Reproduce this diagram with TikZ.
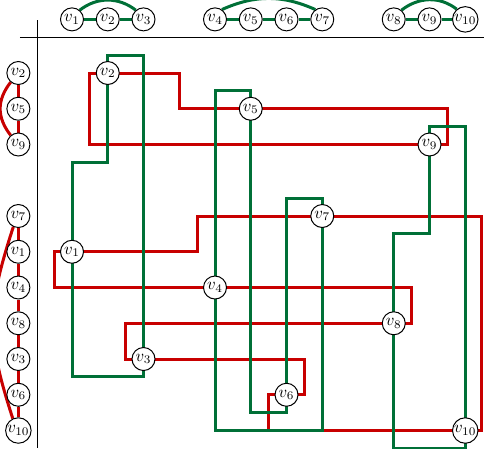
\documentclass[tikz,border=0pt]{standalone}
\usetikzlibrary{calc}
\definecolor{rowred}{RGB}{200,0,0}
\definecolor{colgreen}{RGB}{0,112,55}
\pgfdeclarelayer{bg}
\pgfsetlayers{bg,main}
\begin{document}
\begin{tikzpicture}[x=21.45pt,y=-21.45pt,
  vtx/.style={circle,draw=black,line width=0.6pt,fill=white,minimum size=13.8pt,inner sep=0.3pt},
  redge/.style={draw=rowred,line width=1.8pt},
  gedge/.style={draw=colgreen,line width=1.8pt},
  axis/.style={draw=black,line width=0.7pt}]
\useasboundingbox (-2.014,-2.042) rectangle (11.524,10.490);
% axes
\coordinate (hA) at (-1.455,-1);
\coordinate (hB) at (11.524,-1);
\coordinate (vA) at (-0.97,-1.48);
\coordinate (vB) at (-0.97,10.49);
\draw[axis] (hA) -- (hB);
\draw[axis] (vA) -- (vB);
% top column order
\node[vtx] (T1) at (0,-1.5) {$v_1$};
\node[vtx] (T2) at (1,-1.5) {$v_2$};
\node[vtx] (T3) at (2,-1.5) {$v_3$};
\node[vtx] (T4) at (4,-1.5) {$v_4$};
\node[vtx] (T5) at (5,-1.5) {$v_5$};
\node[vtx] (T6) at (6,-1.5) {$v_6$};
\node[vtx] (T7) at (7,-1.5) {$v_7$};
\node[vtx] (T8) at (9,-1.5) {$v_8$};
\node[vtx] (T9) at (10,-1.5) {$v_9$};
\node[vtx] (T10) at (11,-1.5) {$v_{10}$};
% left row order
\node[vtx] (L2) at (-1.5,0) {$v_2$};
\node[vtx] (L5) at (-1.5,1) {$v_5$};
\node[vtx] (L9) at (-1.5,2) {$v_9$};
\node[vtx] (L7) at (-1.5,4) {$v_7$};
\node[vtx] (L1) at (-1.5,5) {$v_1$};
\node[vtx] (L4) at (-1.5,6) {$v_4$};
\node[vtx] (L8) at (-1.5,7) {$v_8$};
\node[vtx] (L3) at (-1.5,8) {$v_3$};
\node[vtx] (L6) at (-1.5,9) {$v_6$};
\node[vtx] (L10) at (-1.5,10) {$v_{10}$};
% grid nodes
\node[vtx] (v1) at (0,5) {$v_1$};
\node[vtx] (v2) at (1,0) {$v_2$};
\node[vtx] (v3) at (2,8) {$v_3$};
\node[vtx] (v4) at (4,6) {$v_4$};
\node[vtx] (v5) at (5,1) {$v_5$};
\node[vtx] (v6) at (6,9) {$v_6$};
\node[vtx] (v7) at (7,4) {$v_7$};
\node[vtx] (v8) at (9,7) {$v_8$};
\node[vtx] (v9) at (10,2) {$v_9$};
\node[vtx] (v10) at (11,10) {$v_{10}$};
\begin{pgfonlayer}{bg}
% top green graph
\draw[gedge] (T1) -- (T2) -- (T3);
\draw[gedge] (T4) -- (T5) -- (T6) -- (T7);
\draw[gedge] (T8) -- (T9) -- (T10);
\draw[gedge] (T1.50) to[out=38,in=142] (T3.130);
\draw[gedge] (T4.55) to[out=24,in=156] (T7.125);
\draw[gedge] (T8.50) to[out=38,in=142] (T10.130);
% left red graph
\draw[redge] (L2) -- (L5) -- (L9);
\draw[redge] (L7) -- (L1) -- (L4) -- (L8) -- (L3) -- (L6) -- (L10);
\draw[redge] (L2.-130) to[out=-128,in=128,looseness=1.1] (L9.130);
\draw[redge] (L7.-115) to[out=-108,in=108,looseness=1.15] (L10.115);
% red routed edges
\draw[redge] (v2.center) -| (3,1) -- (v5.center);
\draw[redge] (v2.center) -| (0.5,2) -- (v9.center);
\draw[redge] (v5.center) -| (10.5,2) -- (v9.center);
\draw[redge] (v1.center) -| (3.5,4) -- (v7.center);
\draw[redge] (v7.center) -| (11.45,10) -- (v10.center);
\draw[redge] (v1.center) -| (-0.5,6) -- (v4.center);
\draw[redge] (v4.center) -| (9.5,7) -- (v8.center);
\draw[redge] (v8.center) -| (1.5,8) -- (v3.center);
\draw[redge] (v3.center) -| (6.5,9) -- (v6.center);
\draw[redge] (v6.center) -| (5.5,10) -- (v10.center);
% green routed edges
\draw[gedge] (v2.center) |- (2,-0.5) -- (v3.center);
\draw[gedge] (v1.center) |- (1,2.5) -- (v2.center);
\draw[gedge] (v1.center) |- (2,8.5) -- (v3.center);
\draw[gedge] (v5.center) |- (4,0.5) -- (v4.center);
\draw[gedge] (v4.center) |- (7,10) -- (v7.center);
\draw[gedge] (v5.center) |- (6,9.5) -- (v6.center);
\draw[gedge] (v6.center) |- (7,3.5) -- (v7.center);
\draw[gedge] (v9.center) |- (9,4.5) -- (v8.center);
\draw[gedge] (v9.center) |- (11,1.5) -- (v10.center);
\draw[gedge] (v8.center) |- (11,10.5) -- (v10.center);
\end{pgfonlayer}
\end{tikzpicture}
\end{document}
